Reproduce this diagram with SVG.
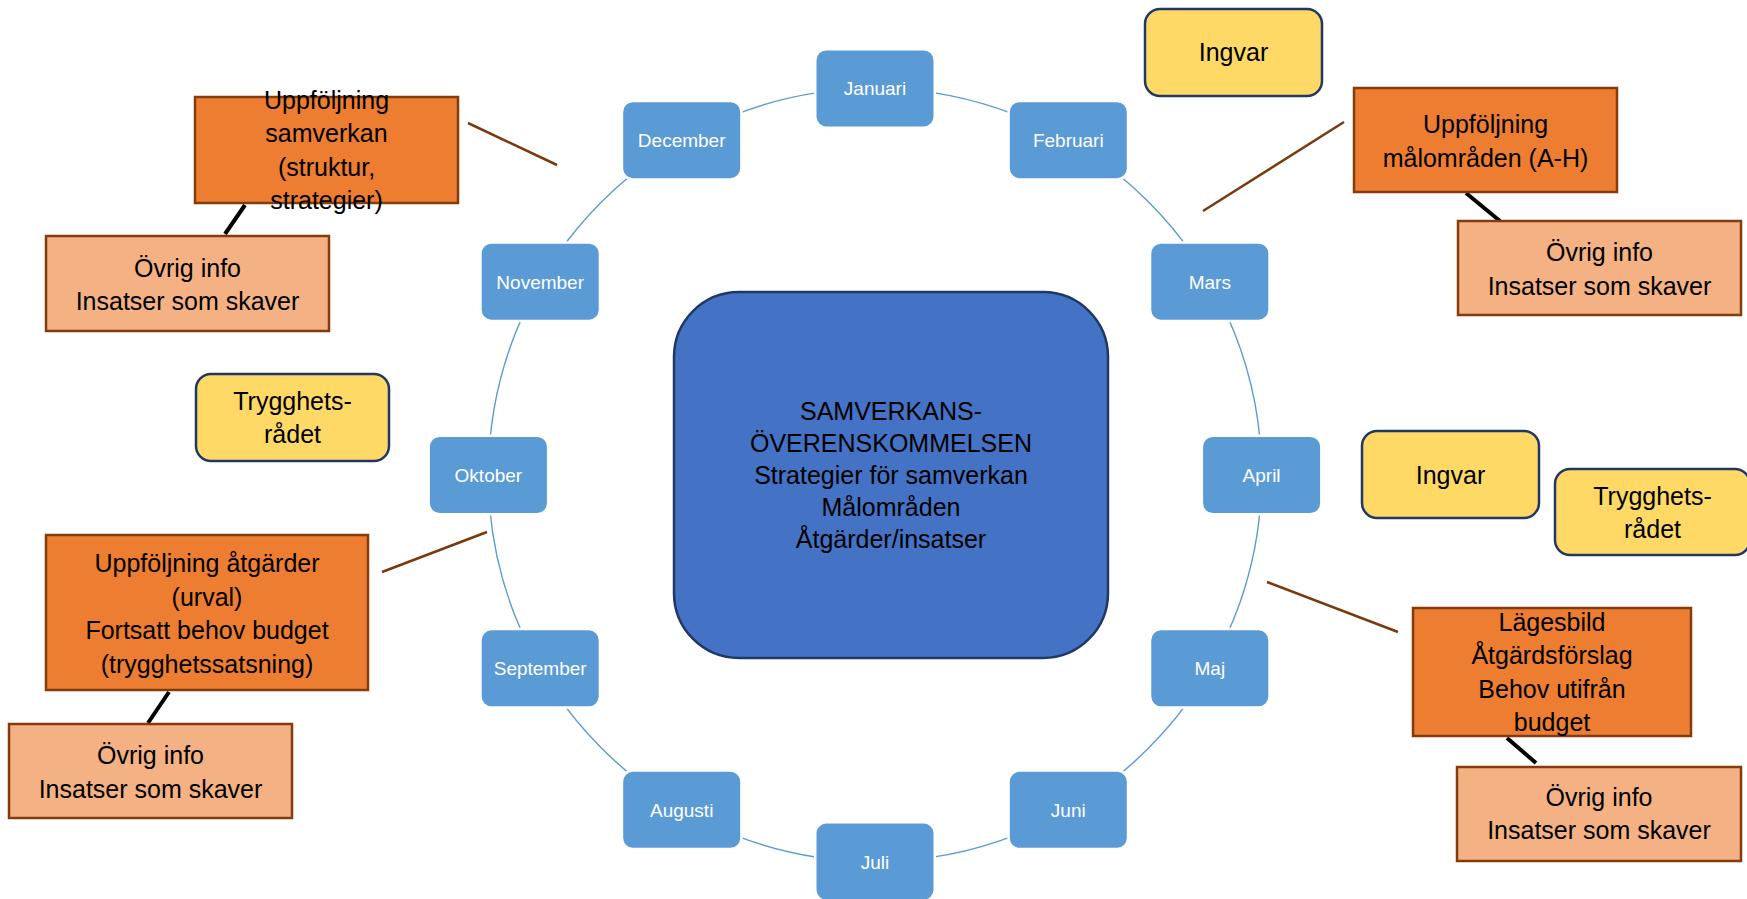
<svg xmlns="http://www.w3.org/2000/svg" width="1747" height="899" viewBox="0 0 1747 899">
<style>
text{font-family:"Liberation Sans",Arial,sans-serif;text-anchor:middle}
.m rect{fill:#5B9BD5;stroke:#FFFFFF;stroke-width:2.5}
.m text{fill:#FFFFFF;font-size:19px}
.ctr rect{fill:#4472C4;stroke:#1F3864;stroke-width:2.5}
.y rect{fill:#FFD966;stroke:#203864;stroke-width:2.5}
.o rect{fill:#ED7D31;stroke:#843C0C;stroke-width:2.5}
.p rect{fill:#F4B183;stroke:#843C0C;stroke-width:2.5}
.t{font-size:25px;fill:#000000}
.br{stroke:#7A3A10;stroke-width:2.5;fill:none}
.bk{stroke:#000000;stroke-width:4;fill:none}
.ring{fill:none;stroke:#5B9BD5;stroke-width:1.4}
</style>
<rect width="1747" height="899" fill="#FFFFFF"/>
<g id="connectors">
<circle class="ring" cx="875" cy="475" r="386.6"/>
<line class="br" x1="468" y1="123" x2="557" y2="165"/>
<line class="bk" x1="245" y1="205" x2="225" y2="234"/>
<line class="br" x1="1344" y1="122" x2="1203" y2="211"/>
<line class="bk" x1="1466" y1="193" x2="1500" y2="221"/>
<line class="br" x1="382" y1="572" x2="487" y2="532"/>
<line class="bk" x1="169" y1="692" x2="148" y2="723"/>
<line class="br" x1="1267" y1="582" x2="1398" y2="632"/>
<line class="bk" x1="1507" y1="738" x2="1536" y2="763"/>
</g>
<g class="m" id="januari"><rect x="815.25" y="49.15" width="119.5" height="78.5" rx="11"/><text x="875" y="95.4">Januari</text></g>
<g class="m" id="februari"><rect x="1008.55" y="100.95" width="119.5" height="78.5" rx="11"/><text x="1068.3" y="147.2">Februari</text></g>
<g class="m" id="mars"><rect x="1150.05" y="242.45" width="119.5" height="78.5" rx="11"/><text x="1209.8" y="288.7">Mars</text></g>
<g class="m" id="april"><rect x="1201.85" y="435.75" width="119.5" height="78.5" rx="11"/><text x="1261.6" y="482">April</text></g>
<g class="m" id="maj"><rect x="1150.05" y="629.05" width="119.5" height="78.5" rx="11"/><text x="1209.8" y="675.3">Maj</text></g>
<g class="m" id="juni"><rect x="1008.55" y="770.55" width="119.5" height="78.5" rx="11"/><text x="1068.3" y="816.8">Juni</text></g>
<g class="m" id="juli"><rect x="815.25" y="822.35" width="119.5" height="78.5" rx="11"/><text x="875" y="868.6">Juli</text></g>
<g class="m" id="augusti"><rect x="621.95" y="770.55" width="119.5" height="78.5" rx="11"/><text x="681.7" y="816.8">Augusti</text></g>
<g class="m" id="september"><rect x="480.45" y="629.05" width="119.5" height="78.5" rx="11"/><text x="540.2" y="675.3">September</text></g>
<g class="m" id="oktober"><rect x="428.65" y="435.75" width="119.5" height="78.5" rx="11"/><text x="488.4" y="482">Oktober</text></g>
<g class="m" id="november"><rect x="480.45" y="242.45" width="119.5" height="78.5" rx="11"/><text x="540.2" y="288.7">November</text></g>
<g class="m" id="december"><rect x="621.95" y="100.95" width="119.5" height="78.5" rx="11"/><text x="681.7" y="147.2">December</text></g>
<g class="ctr" id="center"><rect x="674" y="292" width="434" height="366" rx="65"/>
<text class="t" x="891" y="420">SAMVERKANS-</text>
<text class="t" x="891" y="452">ÖVERENSKOMMELSEN</text>
<text class="t" x="891" y="484">Strategier för samverkan</text>
<text class="t" x="891" y="516">Målområden</text>
<text class="t" x="891" y="548">Åtgärder/insatser</text></g>
<g class="o" id="uppf-samverkan"><rect x="195" y="97" width="263" height="106"/>
<text class="t" x="326.5" y="109">Uppföljning</text>
<text class="t" x="326.5" y="142.4">samverkan</text>
<text class="t" x="326.5" y="175.8">(struktur,</text>
<text class="t" x="326.5" y="209.2">strategier)</text></g>
<g class="p" id="ovrig-1"><rect x="46" y="236" width="283" height="95"/>
<text class="t" x="187.5" y="277">Övrig info</text>
<text class="t" x="187.5" y="310">Insatser som skaver</text></g>
<g class="y" id="ingvar-1"><rect x="1145" y="9" width="177" height="87" rx="15"/>
<text class="t" x="1233.5" y="61">Ingvar</text></g>
<g class="o" id="uppf-malomraden"><rect x="1354" y="88" width="263" height="104"/>
<text class="t" x="1485.5" y="133.3">Uppföljning</text>
<text class="t" x="1485.5" y="166.7">målområden (A-H)</text></g>
<g class="p" id="ovrig-2"><rect x="1458" y="221" width="283" height="94"/>
<text class="t" x="1599.5" y="261">Övrig info</text>
<text class="t" x="1599.5" y="295">Insatser som skaver</text></g>
<g class="y" id="trygghet-1"><rect x="196" y="374" width="193" height="87" rx="15"/>
<text class="t" x="292.5" y="410">Trygghets-</text>
<text class="t" x="292.5" y="443">rådet</text></g>
<g class="o" id="uppf-atgarder"><rect x="46" y="535" width="322" height="155"/>
<text class="t" x="207" y="572">Uppföljning åtgärder</text>
<text class="t" x="207" y="605.5">(urval)</text>
<text class="t" x="207" y="639">Fortsatt behov budget</text>
<text class="t" x="207" y="672.5">(trygghetssatsning)</text></g>
<g class="p" id="ovrig-3"><rect x="9" y="724" width="283" height="94"/>
<text class="t" x="150.5" y="764">Övrig info</text>
<text class="t" x="150.5" y="797.5">Insatser som skaver</text></g>
<g class="y" id="ingvar-2"><rect x="1362" y="431" width="177" height="87" rx="15"/>
<text class="t" x="1450.5" y="484.3">Ingvar</text></g>
<g class="y" id="trygghet-2"><rect x="1555" y="469" width="195" height="86" rx="15"/>
<text class="t" x="1652.5" y="505">Trygghets-</text>
<text class="t" x="1652.5" y="538">rådet</text></g>
<g class="o" id="lagesbild"><rect x="1413" y="608" width="278" height="128"/>
<text class="t" x="1552" y="630.7">Lägesbild</text>
<text class="t" x="1552" y="664.3">Åtgärdsförslag</text>
<text class="t" x="1552" y="697.7">Behov utifrån</text>
<text class="t" x="1552" y="731">budget</text></g>
<g class="p" id="ovrig-4"><rect x="1457" y="767" width="284" height="94"/>
<text class="t" x="1599" y="806">Övrig info</text>
<text class="t" x="1599" y="839.3">Insatser som skaver</text></g>
</svg>
